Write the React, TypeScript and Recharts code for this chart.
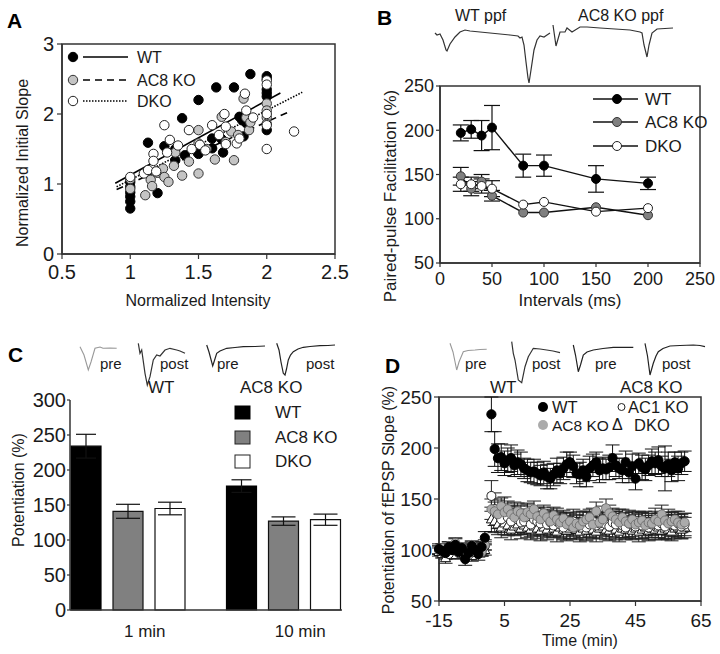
import React from 'react';
import {
  ScatterChart, Scatter, LineChart, Line, BarChart, Bar, XAxis, YAxis,
  ReferenceLine, ReferenceArea, ErrorBar, Label,
} from 'recharts';

const FONT = '"Liberation Sans", Arial, Helvetica, sans-serif';
const W = 720;
const H = 654;
const AXC = '#333';
const TXT = '#1a1a1a';

// ---------------- Panel A ----------------
const aWT: [number, number][] = [
  [1, 1.03], [1, 0.96], [1, 0.88], [1, 0.82], [1, 0.75], [1, 0.65], [1.13, 1.59], [1.2, 0.87],
  [1.25, 1.54], [1.33, 1.5], [1.33, 1.34], [1.38, 1.94], [1.4, 1.41], [1.5, 2.2], [1.5, 1.43],
  [1.6, 1.65], [1.6, 1.51], [1.63, 2.38], [1.67, 1.64], [1.68, 1.45], [1.76, 2.38], [1.8, 1.96],
  [1.82, 1.91], [1.83, 1.68], [1.85, 1.87], [1.88, 2.57], [2, 2.54], [2, 2.5], [2, 2.35],
  [2, 2.3], [2, 2.25], [2, 1.77],
];
const aAC8: [number, number][] = [
  [1, 1.07], [1, 0.93], [1.11, 0.84], [1.15, 1.06], [1.16, 0.97], [1.2, 1.16], [1.24, 1.22],
  [1.25, 1.1], [1.28, 1.03], [1.32, 1.26], [1.33, 1.45], [1.38, 1.12], [1.43, 1.32], [1.5, 1.77],
  [1.5, 1.58], [1.5, 1.15], [1.56, 1.5], [1.62, 1.35], [1.67, 1.96], [1.7, 1.6], [1.74, 1.75],
  [1.76, 1.34], [1.79, 1.7], [1.83, 2.22], [1.85, 1.95], [1.87, 1.77], [1.88, 1.88], [2, 2.15],
  [2, 2.05], [2, 1.95], [2, 1.86],
];
const aDKO: [number, number][] = [
  [1, 1.1], [1.1, 1.15], [1.13, 1.2], [1.17, 1.43], [1.17, 1.33], [1.19, 1.18], [1.25, 1.84],
  [1.27, 1.45], [1.29, 1.63], [1.35, 1.55], [1.43, 1.77], [1.45, 1.5], [1.51, 1.56], [1.55, 1.48],
  [1.6, 1.84], [1.65, 1.7], [1.7, 1.57], [1.69, 2.0], [1.7, 1.82], [1.78, 1.58], [1.8, 1.65],
  [1.84, 2.29], [1.85, 2.05], [1.9, 1.95], [2, 2.48], [2, 2.42], [2, 2.0], [2, 1.84], [2, 1.5],
  [2.2, 1.75],
];
const aFitWT: [number, number][] = [[0.89, 1.01], [2.1, 2.3]];
const aFitAC8: [number, number][] = [[0.9, 0.92], [2.15, 2.02]];
const aFitDKO: [number, number][] = [[0.9, 0.96], [2.26, 2.31]];
const aXTicks = [0.5, 1, 1.5, 2, 2.5];
const aYTicks = [0, 1, 2, 3];

// ---------------- Panel B ----------------
const bIntervals = [20, 30, 40, 50, 80, 100, 150, 200];
const bWT = [197, 201, 194, 203, 160, 160, 145, 140];
const bWTErr = [9, 10, 17, 25, 13, 12, 15, 7];
const bAC8 = [148, 134, 142, 126, 107, 107, 113, 104];
const bAC8Err = [10, 8, 8, 6, 0, 0, 0, 0];
const bDKO = [139, 139, 137, 134, 116, 119, 108, 112];
const bDKOErr = [8, 8, 8, 9, 0, 0, 0, 0];
const bXTicks = [0, 50, 100, 150, 200, 250];
const bYTicks = [50, 100, 150, 200, 250];

// trace insets of panel B (time, amplitude)
const bTrWT_t = [0, 2, 5, 8, 11, 12, 15, 20, 25, 30, 35, 45, 55, 65, 75, 83, 85, 87, 89, 91, 93, 94, 96, 99, 102, 105, 109, 112, 115];
const bTrWT_v = [-3, -5, -4, -10, -20, -21, -14, -7, -2, 0, -1, -2, -3, -4, -5, -6, -8, -7, -15, -32, -48, -53, -40, -20, -10, -6, -7, -5, -3];
const bTrKO_t = [118, 121, 125, 130, 132, 137, 145, 152, 165, 180, 195, 205, 207, 209, 212, 214, 217, 222, 238];
const bTrKO_v = [5, -16, -2, -2, 2, -2, 3, 3, 2, 1, 0, -2, -3, -15, -27, -15, -3, 1, 2];

// ---------------- Panel C ----------------
const cGroups = ['1 min', '10 min'];
const cWT = [234, 177];
const cWTErr = [17, 9];
const cAC8 = [141, 127];
const cAC8Err = [10, 6];
const cDKO = [145, 129];
const cDKOErr = [9, 8];
const cYTicks = [0, 50, 100, 150, 200, 250, 300];

const cTrPreWT_t = [0, 4, 8.3, 11, 15, 20, 23, 30, 36.7];
const cTrPreWT_v = [1.3, -7, -22, -14, -0.3, 1, -0.3, 0, -0.3];
const cTrPostWT_t = [58.3, 60, 61.7, 65, 67.3, 70, 73.3, 76.7, 80, 85, 90, 96.7, 100, 105];
const cTrPostWT_v = [4.7, -5.3, -2, -25.3, -37, -28.7, -12, -7, -8, -2, -0.3, -2, -3, -5.3];
const cTrPreKO_t = [126.7, 129, 132.7, 134, 136.7, 140, 146.7, 155, 163.3, 175, 185];
const cTrPreKO_v = [3, -4, -18, -14, -5.3, -3, -0.3, 0.5, 1.3, 1.5, 2];
const cTrPostKO_t = [196.7, 199, 201, 203.3, 205, 206.5, 208.3, 210.5, 213.3, 218, 223.3, 230, 240, 248, 255];
const cTrPostKO_v = [4.7, -2, -14, -25.3, -27, -21, -12, -7, -3.7, -1, 0.7, 1.5, 2.3, 2.5, 3];

// ---------------- Panel D ----------------
const dTimes = [
  -15, -14, -13, -12, -11, -10, -9, -8, -7, -6, -5, -4, -3, -2, -1,
  1, 2, 3, 4, 5, 6, 7, 8, 9, 10, 11, 12, 13, 14, 15, 16, 17, 18, 19, 20,
  21, 22, 23, 24, 25, 26, 27, 28, 29, 30, 31, 32, 33, 34, 35, 36, 37, 38, 39, 40,
  41, 42, 43, 44, 45, 46, 47, 48, 49, 50, 51, 52, 53, 54, 55, 56, 57, 58, 59, 60,
];
const dWT = [
  101, 99, 97, 103, 100, 105, 98, 102, 91, 97, 104, 100, 96, 103, 112,
  233, 199, 190, 191, 185, 188, 190, 183, 186, 184,
  180, 178, 176, 177, 175, 173, 176, 172, 170, 174,
  178, 175, 180, 184, 186, 182, 175, 174, 178, 172,
  180, 183, 186, 178, 180, 179, 181, 190, 183, 180,
  178, 186, 176, 182, 170, 185, 181, 179, 183, 187,
  185, 188, 182, 180, 184, 178, 186, 180, 185, 187,
];
const dWTErr = [
  5, 4, 6, 5, 4, 6, 5, 4, 6, 5, 4, 5, 6, 5, 6,
  17, 17, 14, 13, 12, 12, 13, 11, 12, 12,
  10, 11, 10, 12, 11, 10, 11, 12, 10, 11,
  12, 10, 11, 12, 10, 11, 10, 12, 11, 10,
  12, 11, 10, 12, 11, 10, 12, 13, 11, 10,
  12, 11, 10, 12, 11, 10, 12, 11, 10, 12,
  11, 13, 10, 22, 12, 11, 10, 12, 11, 10,
];
const dAC1 = [
  100, 98, 102, 96, 100, 103, 97, 99, 101, 95, 100, 98, 102, 99, 104,
  153, 140, 135, 130, 138, 132, 128, 135, 130, 127,
  128, 132, 125, 130, 128, 126, 130, 125, 127, 124,
  128, 125, 122, 126, 124, 128, 123, 125, 127, 122,
  125, 128, 124, 126, 130, 125, 123, 127, 125, 128,
  124, 122, 126, 125, 123, 127, 124, 126, 122, 125,
  128, 124, 126, 123, 127, 125, 124, 126, 123, 125,
];
const dAC1Err = [
  4, 5, 4, 4, 5, 4, 4, 5, 4, 4, 5, 4, 4, 5, 4,
  15, 16, 14, 13, 14, 12, 13, 12, 13, 12,
  12, 13, 12, 11, 13, 12, 12, 13, 12, 11,
  13, 12, 12, 11, 13, 12, 12, 13, 11, 12,
  12, 13, 12, 11, 13, 12, 12, 11, 13, 12,
  12, 11, 13, 12, 12, 11, 13, 12, 12, 11,
  13, 12, 11, 12, 13, 12, 11, 12, 12, 11,
];
const dAC8 = [
  100, 102, 99, 104, 101, 107, 100, 103, 99, 101, 105, 102, 100, 98, 105,
  140, 138, 135, 143, 137, 140, 135, 132, 138, 136,
  132, 137, 135, 140, 133, 130, 136, 132, 128, 134,
  130, 127, 131, 125, 128, 122, 126, 124, 128, 130,
  132, 125, 138, 127, 130, 141, 136, 133, 130, 127,
  132, 128, 126, 130, 125, 127, 129, 124, 127, 126,
  130, 128, 135, 129, 126, 128, 130, 127, 125, 127,
];
const dAC8Err = [
  4, 4, 5, 4, 4, 5, 4, 4, 5, 4, 4, 5, 4, 4, 5,
  10, 9, 9, 8, 9, 8, 8, 9, 8, 8,
  8, 9, 8, 8, 9, 8, 8, 8, 9, 8,
  8, 9, 8, 8, 8, 9, 8, 8, 9, 8,
  8, 8, 9, 8, 8, 9, 8, 8, 8, 9,
  8, 9, 8, 8, 8, 9, 8, 8, 9, 8,
  8, 8, 9, 8, 8, 9, 8, 8, 8, 9,
];
const dDKO = [
  98, 96, 92, 100, 97, 95, 99, 101, 96, 98, 94, 100, 97, 99, 100,
  130, 128, 125, 122, 126, 124, 120, 123, 125, 121,
  124, 122, 120, 123, 121, 119, 122, 120, 124, 121,
  118, 122, 120, 119, 121, 123, 120, 118, 121, 119,
  122, 120, 118, 121, 123, 120, 119, 122, 120, 118,
  121, 120, 122, 119, 121, 118, 120, 122, 119, 121,
  120, 122, 119, 121, 120, 118, 121, 122, 120, 122,
];
const dDKOErr = [
  4, 4, 5, 4, 4, 4, 5, 4, 4, 4, 5, 4, 4, 4, 5,
  12, 11, 10, 10, 11, 10, 10, 9, 10, 10,
  9, 10, 10, 9, 10, 10, 9, 10, 10, 9,
  10, 10, 9, 10, 10, 9, 10, 10, 9, 10,
  10, 9, 10, 10, 9, 10, 10, 9, 10, 10,
  9, 10, 10, 9, 10, 10, 9, 10, 10, 9,
  10, 10, 9, 10, 10, 9, 10, 10, 9, 10,
];
const dXTicks = [-15, 5, 25, 45, 65];
const dYTicks = [50, 100, 150, 200, 250];

const dTrPreWT_t = [5, 8, 11.7, 14, 18.3, 23, 30, 35, 41.7];
const dTrPreWT_v = [4.7, -4, -22, -14, -3.7, -2.5, -2, -1.5, -1.3];
const dTrPostWT_t = [66.7, 68.3, 70, 73.3, 76.7, 80, 83.3, 88.3, 95, 101.7, 108, 115];
const dTrPostWT_v = [6.3, -5.3, -12, -32, -34.7, -18.7, -8.7, -0.3, -1, -2, -3, -4.7];
const dTrPreKO_t = [128.3, 130.5, 133.3, 135.5, 138.3, 142, 148.3, 158, 168.3, 178, 188.3];
const dTrPreKO_v = [3, -7, -23.7, -17, -7, -4, -2, -0.5, 0.7, 0.7, 0.7];
const dTrPostKO_t = [200, 202.5, 205, 208.3, 211, 213.3, 218, 225, 235, 248.3, 255, 260];
const dTrPostKO_v = [4.7, -8, -27, -15.3, -8, -3.7, -0.5, 2, 2.5, 3, 2.5, 1.3];

// ---------------- helpers ----------------
const pairs = (arr: [number, number][]) => arr.map(([x, y]) => ({ x, y }));
const trace = (ts: number[], vs: number[]) => ts.map((t, i) => ({ t, v: vs[i] }));
const seg = (arr: [number, number][]) => arr.map(([x, y]) => ({ x, y }));

const vTitle = (text: string, x: number, y: number, size: number) => (
  <Label
    content={() => (
      <text x={x} y={y} transform={`rotate(-90, ${x}, ${y})`} textAnchor="middle"
        dominantBaseline="central" fontSize={size} fontFamily={FONT} fill={TXT}>{text}</text>
    )}
  />
);
const hTitle = (text: string, x: number, y: number, size: number) => (
  <Label
    content={() => (
      <text x={x} y={y} textAnchor="middle" dominantBaseline="central" fontSize={size}
        fontFamily={FONT} fill={TXT}>{text}</text>
    )}
  />
);

const circ = (fill: string, stroke: string, r: number, sw = 1) => (p: any) =>
  <circle cx={p.cx} cy={p.cy} r={r} fill={fill} stroke={stroke} strokeWidth={sw} />;
const tri = (p: any) => (
  <path d={`M${p.cx},${p.cy - 5.5} L${p.cx + 5},${p.cy + 3.5} L${p.cx - 5},${p.cy + 3.5} Z`}
    fill="#fff" stroke="#111" strokeWidth={1} />
);

const axisLine = { stroke: AXC, strokeWidth: 1.5 };
const tickLine = { stroke: AXC, strokeWidth: 1.2 };
const layer: React.CSSProperties = { position: 'absolute', left: 0, top: 0 };

function PanelA() {
  return (
    <ScatterChart width={W} height={H} margin={{ top: 44, right: 385, bottom: 350, left: 0 }}>
      <XAxis type="number" dataKey="x" domain={[0.5, 2.5]} ticks={aXTicks} allowDataOverflow
        height={50} axisLine={axisLine} tickLine={tickLine} tickSize={5} tickMargin={6}
        tick={{ fontSize: 20, fill: TXT, fontFamily: FONT }}>
        {hTitle('Normalized Intensity', 198, 300, 16)}
      </XAxis>
      <YAxis type="number" dataKey="y" domain={[0, 3]} ticks={aYTicks} allowDataOverflow
        width={62} axisLine={axisLine} tickLine={tickLine} tickSize={5} tickMargin={3}
        tick={{ fontSize: 20, fill: TXT, fontFamily: FONT }}>
        {vTitle('Normalized Initial Slope', 22, 163, 16)}
      </YAxis>
      <ReferenceArea x1={0.5} x2={2.5} y1={0} y2={3} fill="none" fillOpacity={0} stroke={AXC} strokeWidth={1.5} />
      <Scatter data={pairs(aWT)} shape={circ('#000', '#000', 4.7)} isAnimationActive={false} />
      <Scatter data={pairs(aAC8)} shape={circ('#c4c4c4', '#333', 4.7)} isAnimationActive={false} />
      <Scatter data={pairs(aDKO)} shape={circ('#fff', '#222', 4.7)} isAnimationActive={false} />
      <ReferenceLine segment={seg(aFitWT)} stroke="#000" strokeWidth={1.6} />
      <ReferenceLine segment={seg(aFitAC8)} stroke="#000" strokeWidth={1.6} strokeDasharray="7 5" />
      <ReferenceLine segment={seg(aFitDKO)} stroke="#000" strokeWidth={1.6} strokeDasharray="1.5 1.5" />
    </ScatterChart>
  );
}

function PanelB() {
  const data = bIntervals.map((x, i) => ({
    x, wt: bWT[i], wtE: bWTErr[i], ac8: bAC8[i], ac8E: bAC8Err[i], dko: bDKO[i], dkoE: bDKOErr[i],
  }));
  return (
    <LineChart width={W} height={H} data={data} margin={{ top: 86, right: 20, bottom: 341, left: 380 }}>
      <XAxis type="number" dataKey="x" domain={[0, 250]} ticks={bXTicks} height={50}
        axisLine={axisLine} tickLine={tickLine} tickSize={4} tickMargin={5}
        tick={{ fontSize: 18, fill: TXT, fontFamily: FONT }}>
        {hTitle('Intervals (ms)', 570, 300, 17)}
      </XAxis>
      <YAxis type="number" domain={[50, 250]} ticks={bYTicks} width={60}
        axisLine={axisLine} tickLine={tickLine} tickSize={4} tickMargin={2}
        tick={{ fontSize: 18, fill: TXT, fontFamily: FONT }}>
        {vTitle('Paired-pulse Facilitation (%)', 390, 196, 17)}
      </YAxis>
      <ReferenceArea x1={0} x2={250} y1={50} y2={250} fill="none" fillOpacity={0} stroke={AXC} strokeWidth={1.5} />
      <Line dataKey="wt" stroke="#111" strokeWidth={1.4} isAnimationActive={false}
        dot={{ r: 4.5, fill: '#000', stroke: '#000', strokeWidth: 1 }} activeDot={false}>
        <ErrorBar dataKey="wtE" width={8} stroke="#111" strokeWidth={1.2} />
      </Line>
      <Line dataKey="ac8" stroke="#111" strokeWidth={1.4} isAnimationActive={false}
        dot={{ r: 4.5, fill: '#808080', stroke: '#333', strokeWidth: 1 }} activeDot={false}>
        <ErrorBar dataKey="ac8E" width={8} stroke="#111" strokeWidth={1.2} />
      </Line>
      <Line dataKey="dko" stroke="#111" strokeWidth={1.4} isAnimationActive={false}
        dot={{ r: 4.5, fill: '#fff', stroke: '#222', strokeWidth: 1 }} activeDot={false}>
        <ErrorBar dataKey="dkoE" width={8} stroke="#111" strokeWidth={1.2} />
      </Line>
    </LineChart>
  );
}

function TraceB() {
  return (
    <LineChart width={W} height={H} margin={{ top: 20, right: 47, bottom: 569, left: 435 }}>
      <XAxis type="number" dataKey="t" domain={[0, 238]} hide />
      <YAxis type="number" domain={[-55, 10]} hide allowDataOverflow />
      <Line data={trace(bTrWT_t, bTrWT_v)} dataKey="v" stroke="#333" strokeWidth={1.2} dot={false} activeDot={false} isAnimationActive={false} />
      <Line data={trace(bTrKO_t, bTrKO_v)} dataKey="v" stroke="#333" strokeWidth={1.2} dot={false} activeDot={false} isAnimationActive={false} />
    </LineChart>
  );
}

function PanelC() {
  const data = cGroups.map((g, i) => ({
    g, wt: cWT[i], wtE: cWTErr[i], ac8: cAC8[i], ac8E: cAC8Err[i], dko: cDKO[i], dkoE: cDKOErr[i],
  }));
  const tick = (p: any) => (
    <text x={p.x + 17} y={p.y} dy="0.71em" textAnchor="middle" fontSize={17} fontFamily={FONT} fill={TXT}>
      {p.payload.value}
    </text>
  );
  return (
    <BarChart width={W} height={H} data={data} margin={{ top: 400, right: 378, bottom: 4, left: 10 }}
      barSize={30} barGap={12}>
      <XAxis dataKey="g" padding={{ left: -20, right: -19 }} height={40} axisLine={axisLine}
        tickLine={false} tickSize={0} tickMargin={15} tick={tick} />
      <XAxis xAxisId="top" orientation="top" dataKey="g" height={0} tick={false} tickLine={false} axisLine={axisLine} />
      <YAxis type="number" domain={[0, 300]} ticks={cYTicks} width={60} axisLine={axisLine}
        tickLine={tickLine} tickSize={3} tickMargin={1} tick={{ fontSize: 20, fill: TXT, fontFamily: FONT }}>
        {vTitle('Potentiation (%)', 18, 490, 16)}
      </YAxis>
      <YAxis yAxisId="right" orientation="right" domain={[0, 300]} width={0} tick={false} tickLine={false} axisLine={axisLine} />
      <Bar dataKey="wt" fill="#000" stroke="#000" strokeWidth={1.2} isAnimationActive={false}>
        <ErrorBar dataKey="wtE" width={10} stroke="#111" strokeWidth={1.2} />
      </Bar>
      <Bar dataKey="ac8" fill="#808080" stroke="#111" strokeWidth={1.2} isAnimationActive={false}>
        <ErrorBar dataKey="ac8E" width={12} stroke="#111" strokeWidth={1.2} />
      </Bar>
      <Bar dataKey="dko" fill="#fff" stroke="#111" strokeWidth={1.2} isAnimationActive={false}>
        <ErrorBar dataKey="dkoE" width={12} stroke="#111" strokeWidth={1.2} />
      </Bar>
    </BarChart>
  );
}

function TraceC() {
  return (
    <LineChart width={W} height={H} margin={{ top: 340, right: 384, bottom: 264, left: 80 }}>
      <XAxis type="number" dataKey="t" domain={[0, 256]} hide />
      <YAxis type="number" domain={[-42, 8]} hide allowDataOverflow />
      <Line data={trace(cTrPreWT_t, cTrPreWT_v)} dataKey="v" stroke="#999" strokeWidth={1.1} dot={false} activeDot={false} isAnimationActive={false} />
      <Line data={trace(cTrPostWT_t, cTrPostWT_v)} dataKey="v" stroke="#333" strokeWidth={1.2} dot={false} activeDot={false} isAnimationActive={false} />
      <Line data={trace(cTrPreKO_t, cTrPreKO_v)} dataKey="v" stroke="#222" strokeWidth={1.2} dot={false} activeDot={false} isAnimationActive={false} />
      <Line data={trace(cTrPostKO_t, cTrPostKO_v)} dataKey="v" stroke="#222" strokeWidth={1.2} dot={false} activeDot={false} isAnimationActive={false} />
    </LineChart>
  );
}

function PanelD() {
  const mk = (vals: number[], errs: number[]) => dTimes.map((t, i) => ({ t, v: vals[i], e: errs[i] }));
  return (
    <ScatterChart width={W} height={H} margin={{ top: 397, right: 19, bottom: 13, left: 379 }}>
      <XAxis type="number" dataKey="t" domain={[-15, 65]} ticks={dXTicks} height={40}
        axisLine={axisLine} tickLine={tickLine} tickSize={5} tickMargin={8}
        tick={{ fontSize: 19, fill: TXT, fontFamily: FONT }}>
        {hTitle('Time (min)', 580, 640, 16)}
      </XAxis>
      <YAxis type="number" dataKey="v" domain={[50, 250]} ticks={dYTicks} width={60}
        axisLine={axisLine} tickLine={tickLine} tickSize={5} tickMargin={2}
        tick={{ fontSize: 19, fill: TXT, fontFamily: FONT }}>
        {vTitle('Potentiation of fEPSP Slope (%)', 388, 500, 16)}
      </YAxis>
      <ReferenceArea x1={-15} x2={65} y1={50} y2={250} fill="none" fillOpacity={0} stroke={AXC} strokeWidth={1.5} />
      <Scatter data={mk(dDKO, dDKOErr)} shape={tri} isAnimationActive={false}>
        <ErrorBar dataKey="e" direction="y" width={7} stroke="#222" strokeWidth={1} />
      </Scatter>
      <Scatter data={mk(dAC1, dAC1Err)} shape={circ('#fff', '#222', 4.5)} isAnimationActive={false}>
        <ErrorBar dataKey="e" direction="y" width={7} stroke="#222" strokeWidth={1} />
      </Scatter>
      <Scatter data={mk(dAC8, dAC8Err)} shape={circ('#ababab', '#666', 4.5, 0.8)} isAnimationActive={false}>
        <ErrorBar dataKey="e" direction="y" width={7} stroke="#222" strokeWidth={1} />
      </Scatter>
      <Scatter data={mk(dWT, dWTErr)} shape={circ('#000', '#000', 4.6)} isAnimationActive={false}>
        <ErrorBar dataKey="e" direction="y" width={7} stroke="#111" strokeWidth={1} />
      </Scatter>
    </ScatterChart>
  );
}

function TraceD() {
  return (
    <LineChart width={W} height={H} margin={{ top: 338, right: 10, bottom: 266, left: 445 }}>
      <XAxis type="number" dataKey="t" domain={[0, 265]} hide />
      <YAxis type="number" domain={[-40, 10]} hide allowDataOverflow />
      <Line data={trace(dTrPreWT_t, dTrPreWT_v)} dataKey="v" stroke="#999" strokeWidth={1.1} dot={false} activeDot={false} isAnimationActive={false} />
      <Line data={trace(dTrPostWT_t, dTrPostWT_v)} dataKey="v" stroke="#333" strokeWidth={1.2} dot={false} activeDot={false} isAnimationActive={false} />
      <Line data={trace(dTrPreKO_t, dTrPreKO_v)} dataKey="v" stroke="#222" strokeWidth={1.2} dot={false} activeDot={false} isAnimationActive={false} />
      <Line data={trace(dTrPostKO_t, dTrPostKO_v)} dataKey="v" stroke="#222" strokeWidth={1.2} dot={false} activeDot={false} isAnimationActive={false} />
    </LineChart>
  );
}

function T(props: { x: number; y: number; s: number; children: React.ReactNode; bold?: boolean; anchor?: string }) {
  return (
    <text x={props.x} y={props.y} fontSize={props.s} fontFamily={FONT} fill={TXT}
      fontWeight={props.bold ? 'bold' : 'normal'} dominantBaseline="central"
      textAnchor={(props.anchor as any) || 'start'}>{props.children}</text>
  );
}

function Overlay() {
  return (
    <svg width={W} height={H} style={{ ...layer, pointerEvents: 'none' }}>
      {/* panel letters */}
      <text x={7} y={28} fontSize={21} fontWeight="bold" fontFamily={FONT} fill="#000">A</text>
      <text x={377} y={25} fontSize={21} fontWeight="bold" fontFamily={FONT} fill="#000">B</text>
      <text x={8} y={362} fontSize={21} fontWeight="bold" fontFamily={FONT} fill="#000">C</text>
      <text x={385} y={373} fontSize={21} fontWeight="bold" fontFamily={FONT} fill="#000">D</text>

      {/* legend A */}
      <circle cx={73} cy={57} r={4.7} fill="#000" stroke="#000" />
      <line x1={83} x2={128} y1={57} y2={57} stroke="#000" strokeWidth={1.6} />
      <T x={137} y={57} s={16}>WT</T>
      <circle cx={73} cy={80} r={4.7} fill="#c4c4c4" stroke="#333" />
      <line x1={83} x2={128} y1={80} y2={80} stroke="#000" strokeWidth={1.6} strokeDasharray="7 5" />
      <T x={137} y={80} s={16}>AC8 KO</T>
      <circle cx={73} cy={101} r={4.7} fill="#fff" stroke="#222" />
      <line x1={83} x2={128} y1={101} y2={101} stroke="#000" strokeWidth={1.6} strokeDasharray="1.5 1.5" />
      <T x={137} y={101} s={16}>DKO</T>

      {/* B labels & legend */}
      <T x={455} y={15} s={16}>WT ppf</T>
      <T x={578} y={15} s={16}>AC8 KO ppf</T>
      <line x1={593} x2={638} y1={99} y2={99} stroke="#111" strokeWidth={1.4} />
      <circle cx={617} cy={99} r={4.5} fill="#000" stroke="#000" />
      <T x={645} y={99} s={17}>WT</T>
      <line x1={593} x2={638} y1={122} y2={122} stroke="#111" strokeWidth={1.4} />
      <circle cx={617} cy={122} r={4.5} fill="#808080" stroke="#333" />
      <T x={645} y={122} s={17}>AC8 KO</T>
      <line x1={593} x2={638} y1={146} y2={146} stroke="#111" strokeWidth={1.4} />
      <circle cx={617} cy={146} r={4.5} fill="#fff" stroke="#222" />
      <T x={645} y={146} s={17}>DKO</T>

      {/* C labels & legend */}
      <T x={100} y={363} s={15}>pre</T>
      <T x={160} y={363} s={15}>post</T>
      <T x={217} y={363} s={15}>pre</T>
      <T x={306} y={363} s={15}>post</T>
      <T x={148} y={387} s={17}>WT</T>
      <T x={240} y={387} s={17}>AC8 KO</T>
      <rect x={235} y={406} width={15} height={13} fill="#000" stroke="#000" />
      <T x={275} y={412.5} s={17}>WT</T>
      <rect x={235} y={431} width={15} height={13} fill="#808080" stroke="#222" />
      <T x={275} y={437.5} s={17}>AC8 KO</T>
      <rect x={235} y={455} width={15} height={13} fill="#fff" stroke="#222" />
      <T x={275} y={461} s={17}>DKO</T>

      {/* D labels & legend */}
      <T x={465} y={363} s={15}>pre</T>
      <T x={532} y={363} s={15}>post</T>
      <T x={595} y={363} s={15}>pre</T>
      <T x={662} y={363} s={15}>post</T>
      <T x={490} y={387} s={17}>WT</T>
      <T x={620} y={387} s={17}>AC8 KO</T>
      <circle cx={543} cy={407} r={5} fill="#000" />
      <T x={552} y={407} s={16.5}>WT</T>
      <circle cx={621.5} cy={407} r={3.5} fill="#fff" stroke="#222" strokeWidth={1} />
      <T x={628} y={407} s={16.5}>AC1 KO</T>
      <circle cx={543} cy={425} r={5} fill="#ababab" />
      <T x={552} y={425} s={15.5}>AC8 KO</T>
      <T x={612} y={424} s={16}>Δ</T>
      <T x={634} y={425} s={16.5}>DKO</T>
    </svg>
  );
}

export default function App() {
  return (
    <div style={{ position: 'absolute', left: 0, top: 0, width: W, height: H, background: '#fff', overflow: 'hidden', fontFamily: FONT }}>
      <div style={layer}><PanelA /></div>
      <div style={layer}><PanelB /></div>
      <div style={layer}><TraceB /></div>
      <div style={layer}><PanelC /></div>
      <div style={layer}><TraceC /></div>
      <div style={layer}><PanelD /></div>
      <div style={layer}><TraceD /></div>
      <Overlay />
    </div>
  );
}
